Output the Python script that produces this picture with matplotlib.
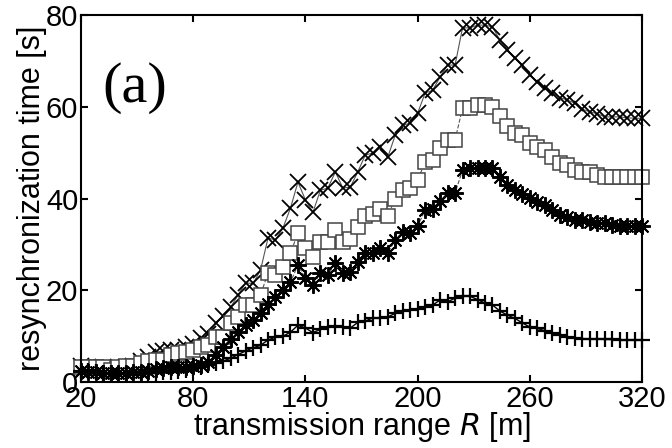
import numpy as np
import matplotlib.pyplot as plt

plt.rcParams['font.family'] = ['Liberation Sans', 'DejaVu Sans']

# transmission range R [m]
r = list(range(20, 321, 4))

# resynchronization time [s], one list per curve
t_cross = [3.5, 3.3, 3.0, 3.0, 3.0, 3.2, 3.4, 3.6, 4.5, 5.5,
           6.5, 6.8, 7.0, 7.0, 7.6, 8.3, 9.6, 10.5, 12.9, 14.5,
           16.3, 19.0, 21.6, 21.5, 24.4, 31.4, 31.0, 33.6, 37.9, 43.6,
           39.7, 37.0, 41.8, 42.3, 45.8, 42.3, 42.5, 45.8, 49.5, 49.9,
           51.2, 49.0, 53.8, 56.0, 56.4, 58.6, 63.0, 63.6, 66.5, 69.1,
           69.1, 77.2, 77.2, 77.8, 77.8, 77.4, 74.5, 72.4, 70.6, 69.1,
           66.9, 65.5, 64.0, 63.0, 62.0, 61.5, 60.8, 59.5, 58.9, 58.5,
           57.8, 57.8, 57.8, 57.6, 57.5, 57.5]
t_square = [3.3, 3.3, 3.3, 3.2, 2.6, 3.3, 3.5, 3.5, 4.1, 4.6,
            4.8, 4.8, 5.9, 6.3, 6.5, 7.0, 7.6, 8.1, 9.8, 9.8,
            12.9, 14.2, 16.8, 16.8, 19.0, 23.8, 23.3, 25.0, 28.1, 32.5,
            29.2, 27.3, 30.5, 30.5, 33.1, 30.5, 31.2, 33.8, 36.2, 36.6,
            37.7, 36.2, 40.0, 41.8, 42.3, 44.0, 48.0, 48.4, 51.0, 52.8,
            52.8, 59.7, 59.7, 60.4, 60.4, 59.9, 58.0, 55.8, 54.3, 53.8,
            52.1, 51.2, 50.6, 49.0, 47.7, 47.3, 46.2, 45.8, 45.8, 45.1,
            44.7, 44.7, 44.7, 44.7, 44.7, 44.7]
t_star = [2.4, 2.3, 2.2, 2.0, 2.0, 2.0, 2.0, 2.2, 2.3, 2.5,
          2.8, 3.0, 3.2, 3.3, 3.4, 3.5, 3.8, 4.4, 6.0, 7.6,
          9.5, 10.9, 12.5, 13.5, 15.0, 17.0, 18.5, 20.0, 21.8, 25.5,
          22.7, 21.1, 23.7, 23.3, 25.9, 23.7, 24.0, 26.2, 28.1, 28.1,
          29.2, 28.1, 31.0, 32.7, 32.5, 34.0, 37.5, 37.8, 39.5, 41.2,
          41.2, 46.2, 46.6, 46.6, 46.6, 46.6, 44.7, 42.9, 41.8, 41.0,
          40.1, 39.2, 38.6, 37.5, 36.4, 36.0, 35.3, 35.3, 35.0, 34.6,
          34.6, 34.2, 34.0, 34.0, 34.0, 34.0]
t_plus = [2.5, 2.4, 2.2, 2.0, 2.0, 1.8, 1.8, 1.8, 1.8, 2.0,
          2.0, 2.2, 2.3, 2.5, 2.7, 3.0, 3.3, 3.8, 4.2, 4.6,
          5.2, 6.0, 6.8, 7.5, 8.0, 9.2, 9.8, 10.0, 10.9, 12.4,
          11.8, 10.8, 11.5, 12.0, 12.2, 12.0, 11.8, 13.0, 13.3, 14.0,
          14.0, 14.2, 15.0, 15.5, 15.7, 16.0, 16.4, 16.8, 17.9, 17.5,
          18.3, 18.7, 18.7, 18.0, 17.2, 16.8, 15.5, 14.6, 13.9, 12.9,
          12.0, 11.7, 11.2, 10.7, 10.3, 9.9, 9.6, 9.5, 9.4, 9.4,
          9.3, 9.3, 9.2, 9.2, 9.2, 9.2]

fig = plt.figure(figsize=(6.72, 4.48), dpi=100)
ax = fig.add_axes([0.1205, 0.147, 0.835, 0.8195])

ax.plot(r, t_cross, '-', color='#555555', lw=0.8, marker='x', ms=11,
        mec='black', mew=1.3, clip_on=False)
ax.plot(r, t_square, '--', color='#555555', lw=0.8, marker='s', ms=9.5,
        mfc='white', mec='#444444', mew=1.1, clip_on=False)
ax.plot(r, t_star, '--', color='#555555', lw=0.8, marker=(8, 2, 0), ms=12,
        mec='black', mew=1.4, clip_on=False)
ax.plot(r, t_plus, '-', color='black', lw=1.0, marker='+', ms=12,
        mec='black', mew=1.6, clip_on=False)

ax.set_xlim(20, 320)
ax.set_ylim(0, 80)
ax.set_xticks([20, 80, 140, 200, 260, 320])
ax.set_yticks([0, 20, 40, 60, 80])
ax.tick_params(direction='in', length=5, width=1.5, labelsize=21,
               top=True, right=True, pad=2)
for s in ax.spines.values():
    s.set_linewidth(1.5)

ax.set_xlabel('transmission range $\\it{R}$ [m]', fontsize=22, labelpad=-2)
ax.set_ylabel('resynchronization time [s]', fontsize=22, labelpad=-1)
ax.text(0.038, 0.80, '(a)', transform=ax.transAxes, fontsize=42,
        family='Liberation Serif', va='center')

fig.savefig('out.png', dpi=100)
